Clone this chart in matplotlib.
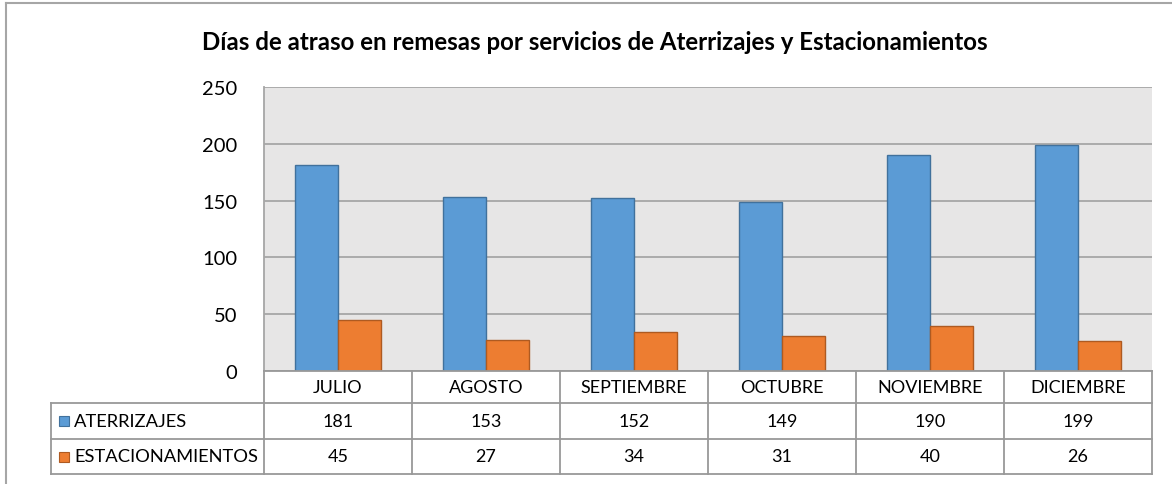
import matplotlib
matplotlib.use("Agg")
import matplotlib.pyplot as plt
import numpy as np
from matplotlib.lines import Line2D
from matplotlib.patches import Rectangle

# data
meses = ["JULIO", "AGOSTO", "SEPTIEMBRE", "OCTUBRE", "NOVIEMBRE", "DICIEMBRE"]
aterrizajes = [181, 153, 152, 149, 190, 199]
estacionamientos = [45, 27, 34, 31, 40, 26]
series_names = ["ATERRIZAJES", "ESTACIONAMIENTOS"]
titulo = "Días de atraso en remesas por servicios de Aterrizajes y Estacionamientos"

W, H = 1172, 485
plt.rcParams['font.family'] = ['Lato', 'DejaVu Sans']

fig = plt.figure(figsize=(W / 100, H / 100), dpi=100)

def fx(px):
    return px / W

def fy(py):
    return 1 - py / H

# plot area in pixels
left, right, top, bottom = 264, 1152, 88, 372
ax = fig.add_axes([fx(left), fy(bottom), fx(right - left), fy(top) - fy(bottom)])

blue, blue_e = "#5B9BD5", "#41719C"
orange, orange_e = "#ED7D31", "#AE5A21"
grid_c = "#A6A6A6"
table_c = "#999999"

x = np.arange(len(meses))
bw = 0.29
ax.bar(x - bw / 2, aterrizajes, bw, color=blue, edgecolor=blue_e, linewidth=1.0, zorder=3)
ax.bar(x + bw / 2, estacionamientos, bw, color=orange, edgecolor=orange_e, linewidth=1.0, zorder=3)

ax.set_xlim(-0.5, len(meses) - 0.5)
ax.set_ylim(0, 250)
ax.set_yticks(range(0, 251, 50))
ax.set_facecolor("#E7E6E6")
ax.yaxis.grid(True, color=grid_c, linewidth=1.3, zorder=0)
ax.set_xticks([])
ax.tick_params(axis="y", length=0, pad=19, labelsize=14.5)
for s in ["top", "right", "bottom"]:
    ax.spines[s].set_visible(False)
ax.spines["left"].set_color(grid_c)
ax.spines["left"].set_linewidth(1.3)

# title
fig.text(fx(595), fy(43), titulo, ha="center", va="center", fontsize=17.3, fontweight="bold")

# data table below the plot
rows_y = [372, 404, 440, 475]
col_w = (right - left) / len(meses)
leg_left = 51

def hline(x0, x1, y):
    fig.add_artist(Line2D([fx(x0), fx(x1)], [fy(y), fy(y)], color=table_c, lw=1.3))

def vline(xp, y0, y1):
    fig.add_artist(Line2D([fx(xp), fx(xp)], [fy(y0), fy(y1)], color=table_c, lw=1.3))

hline(left, right, rows_y[0])
for yy in rows_y[1:]:
    hline(leg_left, right, yy)
vline(leg_left, rows_y[1], rows_y[3])
for i in range(len(meses) + 1):
    vline(left + i * col_w, rows_y[0], rows_y[3])

for i, m in enumerate(meses):
    cx = left + (i + 0.5) * col_w
    fig.text(fx(cx), fy((rows_y[0] + rows_y[1]) / 2), m, ha="center", va="center", fontsize=13)
    fig.text(fx(cx), fy((rows_y[1] + rows_y[2]) / 2), str(aterrizajes[i]), ha="center", va="center", fontsize=13)
    fig.text(fx(cx), fy((rows_y[2] + rows_y[3]) / 2), str(estacionamientos[i]), ha="center", va="center", fontsize=13)

# legend keys in the table
for name, fc, ec, r in [(series_names[0], blue, blue_e, 1), (series_names[1], orange, orange_e, 2)]:
    cy = (rows_y[r] + rows_y[r + 1]) / 2
    fig.add_artist(Rectangle((fx(59), fy(cy + 5)), fx(10), fy(cy - 5) - fy(cy + 5),
                             facecolor=fc, edgecolor=ec, lw=0.8))
    fig.text(fx(74), fy(cy), name, ha="left", va="center", fontsize=13.2)

# chart outer border
fig.add_artist(Line2D([fx(6), fx(6)], [fy(4), 0], color="#A6A6A6", lw=1.5))
fig.add_artist(Line2D([fx(6), 1], [fy(4), fy(4)], color="#A6A6A6", lw=1.5))

fig.savefig("out.png", dpi=100)
